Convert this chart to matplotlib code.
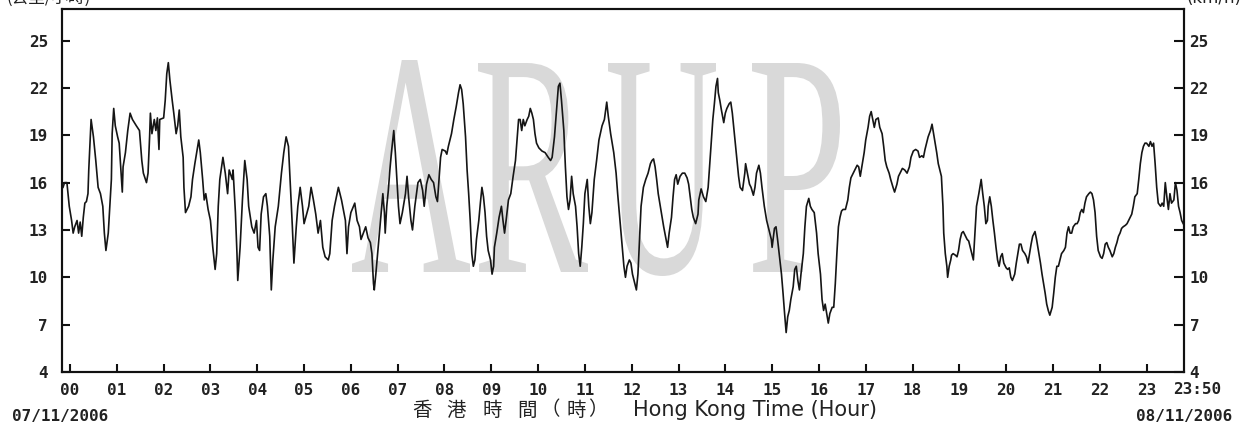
import matplotlib
matplotlib.use("Agg")
import matplotlib.pyplot as plt
from matplotlib.font_manager import FontProperties
from matplotlib.patches import PathPatch
from matplotlib.textpath import TextPath
from matplotlib.transforms import Affine2D

plt.rcParams["font.family"] = ["DejaVu Sans", "Noto Sans CJK TC"]

# wind speed readings (minute of day, km/h)
seg_00_06 = [(-9, 15.7), (-7, 16.0), (-4, 16.0), (-1, 14.5), (2, 13.6), (4, 12.8), (6, 13.2), (9, 13.6), (11, 12.8),
             (13, 13.5), (15, 12.6), (17, 13.8), (19, 14.7), (21, 14.8), (23, 15.3), (24, 16.8), (26, 18.9), (27, 20.0),
             (29, 19.3), (30, 18.9), (33, 17.4), (36, 15.7), (39, 15.3), (42, 14.5), (44, 12.8), (46, 11.7), (49, 12.8),
             (51, 14.5), (53, 16.2), (54, 19.1), (56, 20.7), (58, 19.6), (61, 18.9), (63, 18.5), (65, 17.0), (67, 15.4),
             (68, 17.0), (71, 17.9), (74, 19.3), (77, 20.4), (80, 20.0), (85, 19.6), (89, 19.3), (92, 17.4), (94, 16.6),
             (98, 16.0), (100, 16.6), (102, 18.9), (103, 20.4), (105, 19.1), (108, 20.0), (110, 19.3), (112, 20.1),
             (114, 18.1), (115, 20.0), (120, 20.1), (122, 21.2), (124, 22.9), (126, 23.6), (128, 22.5), (131, 21.2),
             (133, 20.4), (136, 19.1), (138, 19.6), (140, 20.6), (142, 18.9), (145, 17.6), (146, 15.7), (148, 14.1),
             (152, 14.5), (155, 15.1), (157, 16.2), (160, 17.2), (165, 18.7), (167, 17.9), (170, 16.2), (172, 14.9),
             (174, 15.3), (177, 14.3), (180, 13.6), (183, 11.9), (186, 10.5), (188, 11.5), (190, 14.5), (192, 16.2),
             (196, 17.6), (199, 16.6), (202, 15.3), (204, 16.8), (208, 16.2), (209, 16.8), (212, 14.1), (214, 11.5),
             (215, 9.8), (218, 11.9), (221, 14.9), (224, 17.4), (227, 16.2), (229, 14.5), (233, 13.2), (236, 12.8),
             (239, 13.6), (241, 11.9), (243, 11.7), (245, 14.0), (248, 15.1), (251, 15.3), (253, 14.5), (256, 12.6),
             (258, 9.2), (260, 11.1), (263, 13.2), (267, 14.5), (271, 16.6), (274, 17.9), (277, 18.9), (280, 18.3),
             (283, 15.3), (285, 13.2), (287, 10.9), (290, 13.2), (292, 14.5), (295, 15.7), (298, 14.5), (300, 13.4),
             (306, 14.5), (309, 15.7), (312, 14.9), (315, 14.0), (318, 12.8), (321, 13.6), (324, 11.9), (327, 11.3),
             (331, 11.1), (333, 11.5), (336, 13.6), (339, 14.5), (344, 15.7), (348, 14.9), (353, 13.6)]

seg_06_12 = [(355, 11.5), (357, 13.2), (360, 14.1), (365, 14.7), (368, 13.6), (371, 13.2), (373, 12.4), (376, 12.8),
             (379, 13.2), (382, 12.5), (385, 12.2), (387, 11.5), (389, 9.6), (390, 9.2), (392, 10.2), (395, 11.9),
             (398, 13.6), (401, 15.3), (403, 14.1), (404, 12.8), (406, 14.5), (408, 15.5), (410, 16.8), (412, 17.9),
             (415, 19.3), (417, 17.9), (419, 16.2), (421, 14.5), (423, 13.4), (426, 14.1), (430, 15.3), (432, 16.4),
             (434, 15.1), (437, 13.6), (439, 13.0), (442, 14.5), (446, 16.0), (449, 16.2), (452, 15.5), (454, 14.5),
             (457, 15.9), (460, 16.5), (463, 16.2), (466, 16.0), (469, 15.1), (471, 14.8), (473, 16.2), (475, 17.6),
             (477, 18.1), (481, 18.0), (483, 17.8), (485, 18.3), (489, 19.1), (492, 20.0), (495, 20.8), (498, 21.7),
             (500, 22.2), (502, 21.9), (504, 21.0), (507, 18.9), (509, 16.8), (511, 15.3), (513, 13.6), (515, 11.5),
             (517, 10.7), (519, 11.1), (521, 12.4), (524, 13.6), (526, 14.7), (528, 15.7), (530, 15.1), (532, 14.1),
             (534, 12.6), (536, 11.7), (539, 11.1), (541, 10.2), (543, 10.7), (544, 11.9), (547, 12.8), (550, 13.8),
             (553, 14.5), (555, 13.6), (557, 12.8), (559, 13.6), (562, 14.9), (565, 15.3), (568, 16.4), (571, 17.4),
             (573, 18.7), (575, 20.0), (577, 20.0), (579, 19.3), (581, 20.0), (583, 19.6), (586, 20.0), (588, 20.2),
             (590, 20.7), (592, 20.4), (594, 20.0), (596, 19.1), (598, 18.5), (601, 18.2), (605, 18.0), (609, 17.9),
             (613, 17.6), (616, 17.4), (618, 17.6), (621, 18.9), (624, 20.8), (626, 22.1), (628, 22.3), (630, 21.2),
             (633, 19.3), (635, 17.0), (637, 15.1), (639, 14.3), (641, 14.9), (643, 16.4), (645, 15.3), (648, 14.5),
             (650, 13.2), (652, 11.5), (654, 10.7), (656, 11.9), (658, 13.4), (660, 15.3), (663, 16.2), (665, 14.5),
             (667, 13.4), (669, 14.1), (672, 16.2), (675, 17.4), (678, 18.7), (682, 19.6), (685, 20.0), (688, 21.1),
             (690, 20.2), (693, 19.1), (697, 17.9), (700, 16.6), (702, 15.3), (705, 13.6), (707, 12.4), (710, 10.7),
             (712, 10.0)]

seg_12_18 = [(714, 10.7), (717, 11.1), (719, 10.9), (721, 10.2), (724, 9.6), (726, 9.2), (728, 10.2), (730, 12.4),
             (732, 14.5), (735, 15.7), (738, 16.2), (741, 16.6), (744, 17.2), (746, 17.4), (748, 17.5), (750, 17.0),
             (752, 16.2), (754, 15.3), (758, 14.1), (761, 13.2), (764, 12.4), (766, 11.9), (768, 12.8), (771, 13.8),
             (773, 15.1), (775, 16.2), (777, 16.5), (779, 15.9), (782, 16.4), (785, 16.6), (788, 16.6), (791, 16.3),
             (793, 15.9), (795, 15.1), (797, 14.3), (799, 13.8), (802, 13.4), (805, 14.0), (806, 14.9), (809, 15.6),
             (812, 15.1), (815, 14.8), (818, 15.7), (821, 17.9), (824, 20.0), (826, 21.0), (828, 22.1), (830, 22.6),
             (831, 21.7), (833, 21.2), (835, 20.6), (838, 19.8), (840, 20.4), (842, 20.7), (845, 21.0), (847, 21.1),
             (849, 20.4), (852, 18.9), (855, 17.4), (857, 16.4), (859, 15.7), (862, 15.5), (865, 16.6), (866, 17.2),
             (869, 16.4), (871, 15.9), (873, 15.7), (876, 15.2), (878, 15.7), (880, 16.6), (883, 17.1), (885, 16.6),
             (887, 15.7), (890, 14.5), (893, 13.6), (896, 13.0), (899, 12.4), (900, 11.9), (903, 13.1), (905, 13.2),
             (907, 12.4), (909, 11.5), (912, 10.2), (914, 9.0), (916, 7.7), (918, 6.5), (920, 7.5), (922, 7.9),
             (924, 8.6), (927, 9.4), (929, 10.5), (931, 10.7), (933, 9.8), (935, 9.2), (937, 10.2), (940, 11.5),
             (942, 13.2), (944, 14.5), (947, 15.0), (949, 14.5), (951, 14.3), (954, 14.1), (957, 12.8), (959, 11.5),
             (962, 10.2), (964, 8.6), (966, 7.9), (968, 8.3), (970, 7.7), (972, 7.1), (974, 7.7), (977, 8.1),
             (979, 8.1), (981, 9.6), (983, 11.5), (985, 13.2), (987, 13.8), (989, 14.2), (991, 14.3), (994, 14.3),
             (997, 14.9), (999, 15.7), (1001, 16.3), (1004, 16.6), (1006, 16.8), (1009, 17.1), (1011, 17.0),
             (1013, 16.4), (1015, 17.0), (1018, 17.9), (1020, 18.7), (1023, 19.5), (1025, 20.2), (1027, 20.5),
             (1029, 20.0), (1031, 19.5), (1033, 20.0), (1036, 20.1), (1038, 19.5), (1041, 19.1), (1043, 18.3),
             (1045, 17.4), (1047, 17.0), (1050, 16.6), (1052, 16.2), (1055, 15.7), (1057, 15.4), (1060, 15.9),
             (1062, 16.4), (1065, 16.7), (1067, 16.9), (1070, 16.8)]

seg_18_24 = [(1073, 16.6), (1076, 17.0), (1078, 17.6), (1081, 18.0), (1084, 18.1), (1087, 18.0), (1089, 17.6),
             (1092, 17.7), (1094, 17.6), (1096, 18.1), (1098, 18.5), (1100, 18.9), (1103, 19.3), (1105, 19.7),
             (1107, 19.1), (1109, 18.5), (1111, 17.9), (1113, 17.2), (1115, 16.8), (1117, 16.4), (1119, 14.5),
             (1120, 12.8), (1122, 11.5), (1124, 10.7), (1125, 10.0), (1127, 10.7), (1129, 11.1), (1130, 11.4),
             (1132, 11.5), (1135, 11.4), (1137, 11.3), (1139, 11.7), (1141, 12.4), (1143, 12.8), (1145, 12.9),
             (1147, 12.7), (1150, 12.4), (1152, 12.3), (1154, 11.9), (1156, 11.5), (1158, 11.1), (1160, 12.8),
             (1162, 14.5), (1165, 15.3), (1167, 15.9), (1168, 16.2), (1170, 15.3), (1172, 14.5), (1174, 13.4),
             (1176, 13.6), (1177, 14.5), (1179, 15.1), (1181, 14.5), (1183, 13.6), (1185, 12.8), (1187, 11.9),
             (1189, 11.1), (1191, 10.7), (1193, 11.3), (1195, 11.5), (1197, 10.9), (1200, 10.6), (1202, 10.5),
             (1204, 10.6), (1206, 10.0), (1208, 9.8), (1211, 10.2), (1213, 10.9), (1215, 11.5), (1217, 12.1),
             (1219, 12.1), (1221, 11.7), (1224, 11.5), (1226, 11.3), (1228, 10.9), (1230, 11.5), (1232, 12.1),
             (1234, 12.6), (1237, 12.9), (1239, 12.4), (1242, 11.5), (1244, 10.9), (1246, 10.2), (1248, 9.6),
             (1250, 9.0), (1252, 8.3), (1254, 7.9), (1256, 7.6), (1259, 8.1), (1261, 9.0), (1263, 10.0), (1265, 10.7),
             (1267, 10.7), (1269, 11.1), (1271, 11.5), (1274, 11.7), (1276, 11.9), (1278, 12.8), (1280, 13.2),
             (1282, 12.8), (1284, 12.8), (1286, 13.2), (1289, 13.4), (1291, 13.4), (1293, 13.6), (1295, 14.1),
             (1297, 14.3), (1299, 14.1), (1301, 14.7), (1303, 15.1), (1306, 15.3), (1308, 15.4), (1310, 15.3),
             (1312, 14.9), (1314, 14.1), (1316, 12.6), (1318, 11.7), (1321, 11.3), (1323, 11.2), (1325, 11.5),
             (1327, 12.1), (1329, 12.2), (1331, 11.9), (1333, 11.7), (1336, 11.3), (1338, 11.5), (1340, 11.9),
             (1342, 12.2), (1344, 12.6), (1346, 12.8), (1348, 13.1), (1350, 13.2), (1353, 13.3), (1355, 13.4),
             (1357, 13.6), (1359, 13.8), (1361, 14.0), (1363, 14.5), (1365, 15.1), (1368, 15.3), (1370, 16.2),
             (1372, 17.2), (1374, 17.9), (1376, 18.3), (1378, 18.5), (1380, 18.5), (1383, 18.3), (1385, 18.6),
             (1387, 18.3), (1389, 18.5), (1391, 17.2), (1393, 15.7), (1395, 14.7), (1398, 14.5), (1400, 14.7),
             (1402, 14.5), (1404, 16.0), (1406, 15.1), (1408, 14.3), (1410, 15.3), (1412, 14.7), (1415, 14.9),
             (1417, 16.0), (1419, 15.5), (1421, 14.5), (1423, 14.1), (1425, 13.6), (1427, 13.4)]

hour_labels = ["%02d" % h for h in range(24)]
y_ticks = [4, 7, 10, 13, 16, 19, 22, 25]
start_date = "07/11/2006"
end_date = "08/11/2006"
end_label = "23:50"
x_title_zh = ["香", "港", "時", "間", "（", "時", "）"]
x_title_en = "Hong Kong Time (Hour)"
unit_zh = "(公里/小時)"
unit_en = "(km/h)"

W, H = 1247, 432
tick_font = FontProperties(family="DejaVu Sans Mono", weight="bold", size=11.5)

readings = seg_00_06 + seg_06_12 + seg_12_18 + seg_18_24
minutes = [p[0] for p in readings]
speed = [p[1] for p in readings]

fig = plt.figure(figsize=(W / 100, H / 100), dpi=100)
fig.patch.set_facecolor("white")
ax = fig.add_axes([62 / W, 1 - 372 / H, (1184 - 62) / W, (372 - 9) / H])


def add_watermark_letter(ch, x0, x1, ytop, ybot):
    # letter squeezed into a box given in image pixels
    tp = TextPath((0, 0), ch, size=100, prop=FontProperties(family="Liberation Serif"))
    ext = tp.get_extents()
    tr = (Affine2D().translate(-ext.x0, -ext.y0)
          .scale((x1 - x0) / ext.width, (ybot - ytop) / ext.height)
          .translate(x0, H - ybot))
    patch = PathPatch(tp, transform=tr, facecolor="#d9d9d9", edgecolor="none", zorder=1)
    ax.add_patch(patch)


add_watermark_letter("A", 352, 470, 60, 272)
add_watermark_letter("R", 478, 588, 63, 272)
add_watermark_letter("U", 608, 716, 63, 276)
add_watermark_letter("P", 752, 840, 63, 272)

ax.plot(minutes, speed, color="#151515", lw=1.2, zorder=3)

ax.set_xlim(-10.3, 1428)
ax.set_ylim(4, 27)
ax.set_xticks([60 * h for h in range(24)])
ax.set_xticklabels(hour_labels)
ax.set_yticks(y_ticks)
ax.set_yticklabels([str(v) for v in y_ticks])
ax.tick_params(axis="both", direction="in", length=6, width=1.5, color="#111111")
ax.tick_params(axis="x", pad=8)
ax.tick_params(axis="y", pad=10)
for lab in ax.get_xticklabels() + ax.get_yticklabels():
    lab.set_fontproperties(tick_font)
    lab.set_color("#222222")

ax2 = ax.twinx()
ax2.set_ylim(4, 27)
ax2.set_yticks(y_ticks)
ax2.set_yticklabels([str(v) for v in y_ticks])
ax2.tick_params(axis="y", direction="in", length=7, width=1.5, pad=4, color="#111111")
for lab in ax2.get_yticklabels():
    lab.set_fontproperties(tick_font)
    lab.set_color("#222222")

for a in (ax, ax2):
    for sp in a.spines.values():
        sp.set_linewidth(1.5)
        sp.set_color("#111111")

ax.annotate(end_label, xy=(1428, 0), xycoords=("data", "axes fraction"),
            xytext=(13 * 0.72, -17 * 0.72), textcoords="offset points",
            ha="center", va="center", fontproperties=tick_font, color="#222222")

fig.text(12 / W, 1 - 417 / H, start_date, ha="left", va="center", fontproperties=tick_font, color="#222222")
fig.text(1232 / W, 1 - 417 / H, end_date, ha="right", va="center", fontproperties=tick_font, color="#222222")

# Chinese axis title, spaced out character by character
zh_left = [412, 446, 482, 517, 540, 567, 588]
for ch, xl in zip(x_title_zh, zh_left):
    fig.text(xl / W, 1 - 410 / H, ch, ha="left", va="center", size=14,
             family=["Noto Sans CJK TC", "DejaVu Sans"], color="#222222")
fig.text(633 / W, 1 - 410 / H, x_title_en, ha="left", va="center", size=15,
         family=["DejaVu Sans"], color="#222222")

# unit captions, cut off by the top edge as in the source
fig.text(6 / W, 1 - 3 / H, unit_zh, ha="left", va="baseline", size=12,
         family=["Noto Sans CJK TC", "DejaVu Sans"], color="#222222")
fig.text(1242 / W, 1 - 3 / H, unit_en, ha="right", va="baseline", size=12,
         family=["DejaVu Sans"], color="#222222")

fig.savefig("out.png", dpi=100, facecolor="white")
